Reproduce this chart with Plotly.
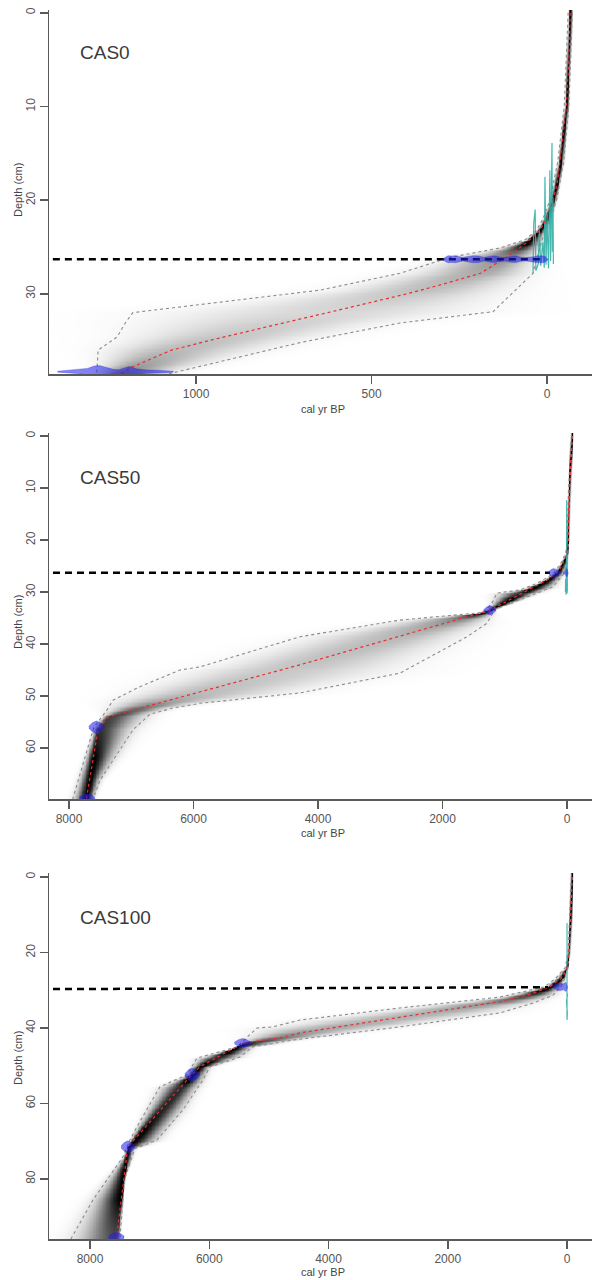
import numpy as np
import plotly.graph_objects as go

FIG_W, FIG_H = 592, 1280

# ======================= DATA =======================
# ---- CAS0 ----
P1_LABEL = "CAS0"
P1_MEAN_DEPTH = [0, 5, 10, 13, 16, 18, 20, 22, 23.2, 24.5, 25.8, 26.3, 27, 27.8, 29, 30, 31, 32, 33, 34, 35, 36, 37, 37.9, 38.55]
P1_MEAN_AGE = [-66, -62, -55, -46, -38, -30, -17, 2, 20, 57, 105, 125, 155, 190, 300, 400, 510, 625, 740, 855, 965, 1070, 1130, 1188, 1215]
P1_OLD_DEPTH = [0, 10, 16, 20, 22, 23.2, 24.2, 25.1, 26.1, 27, 27.8, 29.6, 32.0, 33.0, 34.6, 36.0, 38.55]
P1_OLD_AGE = [-60, -49, -30, -8, 12, 30, 62, 134, 276, 350, 419, 647, 1180, 1200, 1225, 1279, 1283]
P1_YOUNG_DEPTH = [0, 10, 16, 20, 22, 24, 26, 27.8, 31.9, 33.1, 35.2, 38.1, 38.55]
P1_YOUNG_AGE = [-72, -62, -47, -27, -10, 12, 28, 40, 154, 419, 704, 1037, 1080]
P1_PB_AGE = [40, 38, 34, 32, 25, 22, 18, 12, 8, 6, 3, 0, -4, -8, -10, -14, -15, -17, -18]
P1_PB_DEPTH = [27.8, 22.5, 21.0, 27.5, 26.8, 23.2, 27.0, 24.5, 27.2, 17.5, 26.9, 21.5, 27.3, 16.8, 26.5, 13.9, 25.5, 20.0, 26.8]
P1_DATE_DEPTH = [26.3, 38.3]
P1_DATE_AGES = [
    [297, 290, 282, 272, 262, 252, 240, 225, 210, 195, 180, 165, 150, 135, 120, 105, 90, 75, 60, 45, 30, 15, 5, -3],
    [1395, 1370, 1340, 1310, 1290, 1275, 1255, 1235, 1220, 1205, 1190, 1170, 1140, 1110, 1080, 1065],
]
P1_DATE_HALF = [
    [0.05, 0.25, 0.38, 0.35, 0.38, 0.3, 0.2, 0.3, 0.38, 0.35, 0.2, 0.3, 0.36, 0.25, 0.18, 0.3, 0.36, 0.22, 0.18, 0.25, 0.35, 0.38, 0.3, 0.05],
    [0.05, 0.15, 0.2, 0.35, 0.6, 0.65, 0.45, 0.25, 0.2, 0.4, 0.55, 0.3, 0.18, 0.15, 0.12, 0.05],
]
P1_DASH_DEPTH = [26.3, 26.3]
P1_DASH_AGE = [1408, 6]
P1_XTICKS = [1000, 500, 0]
P1_YTICKS = [0, 10, 20, 30]

# ---- CAS50 ----
P2_LABEL = "CAS50"
P2_MEAN_DEPTH = [0, 6.5, 12, 20, 22.5, 24.4, 25.3, 26.3, 27.7, 33.5, 44, 50, 54, 56.5, 69.8]
P2_MEAN_AGE = [-80, -48, -32, -16, 0, 64, 100, 161, 320, 1237, 4289, 6140, 7374, 7534, 7720]
P2_OLD_DEPTH = [0, 10, 20, 22.5, 24.5, 26.3, 27.1, 28.5, 29.6, 30.2, 32.0, 33.5, 34.0, 35.4, 38.6, 44.4, 45.0, 48.2, 50.8, 52.7, 56.0, 69.8]
P2_OLD_AGE = [-74, -25, -5, 20, 100, 210, 300, 520, 755, 1124, 1200, 1300, 1420, 2683, 4289, 5896, 6217, 6860, 7293, 7390, 7600, 7940]
P2_YOUNG_DEPTH = [0, 10, 20, 24, 26.3, 27.5, 29, 31.5, 33.3, 34, 36, 38.6, 45.6, 49.4, 51.4, 52.3, 53.5, 56.5, 66.2, 69.8]
P2_YOUNG_AGE = [-86, -45, -27, -5, 40, 120, 225, 755, 1150, 1189, 1285, 1606, 2683, 4289, 5896, 6329, 6699, 6972, 7502, 7614]
P2_PB_AGE = [8, 8, 5, 3, -2, -3, -6, 12, 14, 22, 25, -10]
P2_PB_DEPTH = [30.2, 14, 12.3, 29.5, 30.3, 22, 29.8, 25, 30.5, 27.5, 30, 28.5]
P2_DATE_DEPTH = [26.3, 26.3, 33.5, 56.0, 69.6]
P2_DATE_AGES = [
    [300, 260, 220, 180, 140, 100],
    [60, 30, 0, -20],
    [1340, 1290, 1240, 1190, 1140],
    [7680, 7620, 7560, 7500, 7440],
    [7830, 7770, 7710, 7650, 7590],
]
P2_DATE_HALF = [
    [0.1, 0.6, 0.8, 0.7, 0.4, 0.1],
    [0.1, 0.3, 0.8, 0.1],
    [0.1, 0.6, 0.9, 0.6, 0.1],
    [0.2, 0.9, 1.2, 0.9, 0.2],
    [0.2, 0.6, 0.8, 0.6, 0.2],
]
P2_DASH_DEPTH = [26.3, 26.3]
P2_DASH_AGE = [8257, 273]
P2_XTICKS = [8000, 6000, 4000, 2000, 0]
P2_YTICKS = [0, 10, 20, 30, 40, 50, 60]

# ---- CAS100 ----
P3_LABEL = "CAS100"
P3_MEAN_DEPTH = [0, 10, 20, 23.8, 26.5, 29.1, 31, 33, 37.2, 41.3, 42.6, 44, 50.3, 52.4, 71.5, 95.9]
P3_MEAN_AGE = [-80, -60, -30, 0, 67, 285, 600, 1124, 2802, 4480, 4815, 5436, 6158, 6292, 7366, 7560]
P3_OLD_DEPTH = [0, 20, 24, 27, 29.1, 31.8, 34.7, 37.9, 39.7, 40.0, 45.0, 48.0, 52.4, 55.6, 66.2, 69.7, 74.2, 85.6, 95.9]
P3_OLD_AGE = [-74, -18, 30, 200, 380, 1124, 2802, 4480, 4933, 5201, 5537, 6208, 6376, 6829, 7215, 7332, 7450, 7953, 8320]
P3_YOUNG_DEPTH = [0, 20, 24, 27, 29, 31.3, 33.4, 36, 39.7, 43.2, 45, 47.7, 50.3, 53.8, 61.7, 69.7, 72, 80, 95.9]
P3_YOUNG_AGE = [-86, -40, -8, 40, 100, 235, 570, 1124, 2802, 4600, 5268, 5487, 5990, 6107, 6443, 6879, 7250, 7420, 7500]
P3_PB_AGE = [0, 0, 6, 6, -6, -6, 10, -10]
P3_PB_DEPTH = [12.2, 37.9, 35, 20, 30, 36, 33, 31]
P3_DATE_DEPTH = [29.1, 44.0, 52.4, 71.5, 95.4]
P3_DATE_AGES = [
    [240, 180, 120, 60, 20, -10],
    [5580, 5510, 5440, 5370, 5300],
    [6410, 6350, 6290, 6230, 6170],
    [7480, 7420, 7366, 7310, 7250],
    [7690, 7620, 7560, 7500, 7430],
]
P3_DATE_HALF = [
    [0.2, 0.8, 1.0, 0.8, 1.2, 0.2],
    [0.2, 0.9, 1.2, 0.9, 0.2],
    [0.3, 1.3, 1.8, 1.3, 0.3],
    [0.3, 1.2, 1.6, 1.2, 0.3],
    [0.3, 1.0, 1.3, 1.0, 0.3],
]
P3_DASH_DEPTH = [29.7, 29.2]
P3_DASH_AGE = [8621, 320]
P3_XTICKS = [8000, 6000, 4000, 2000, 0]
P3_YTICKS = [0, 20, 40, 60, 80]

# ======================= LAYOUT GEOMETRY =======================
LEFT_PX = 49
PLOT_W = FIG_W - LEFT_PX
PANELS = [
    dict(top=10, bot=374, xr=[1419, -128], yr=[38.55, -0.3], ytitle=190, xtitle=409, lab=52),
    dict(top=433, bot=799, xr=[8321, -402], yr=[69.8, -0.58], ytitle=622, xtitle=833, lab=477),
    dict(top=873, bot=1239, xr=[8688, -419], yr=[95.9, -1.06], ytitle=1058, xtitle=1272, lab=917),
]
FONT = "Liberation Sans, Arial, Helvetica, sans-serif"
AXIS_COL = "#5a5a5a"

DATA = [
    (P1_LABEL, P1_MEAN_DEPTH, P1_MEAN_AGE, P1_OLD_DEPTH, P1_OLD_AGE, P1_YOUNG_DEPTH, P1_YOUNG_AGE,
     P1_PB_AGE, P1_PB_DEPTH, P1_DATE_DEPTH, P1_DATE_AGES, P1_DATE_HALF, P1_DASH_DEPTH, P1_DASH_AGE,
     P1_XTICKS, P1_YTICKS),
    (P2_LABEL, P2_MEAN_DEPTH, P2_MEAN_AGE, P2_OLD_DEPTH, P2_OLD_AGE, P2_YOUNG_DEPTH, P2_YOUNG_AGE,
     P2_PB_AGE, P2_PB_DEPTH, P2_DATE_DEPTH, P2_DATE_AGES, P2_DATE_HALF, P2_DASH_DEPTH, P2_DASH_AGE,
     P2_XTICKS, P2_YTICKS),
    (P3_LABEL, P3_MEAN_DEPTH, P3_MEAN_AGE, P3_OLD_DEPTH, P3_OLD_AGE, P3_YOUNG_DEPTH, P3_YOUNG_AGE,
     P3_PB_AGE, P3_PB_DEPTH, P3_DATE_DEPTH, P3_DATE_AGES, P3_DATE_HALF, P3_DASH_DEPTH, P3_DASH_AGE,
     P3_XTICKS, P3_YTICKS),
]

fig = go.Figure()
annotations = []
layout_axes = {}

for i, (label, md, ma, od, oa, yd, ya, pba, pbd, dd, dages, dhalf, dashd, dasha, xt, yt) in enumerate(DATA):
    g = PANELS[i]
    xa = "x" if i == 0 else f"x{i+1}"
    yax = "y" if i == 0 else f"y{i+1}"
    xr, yr = g["xr"], g["yr"]
    px_per_yr = PLOT_W / abs(xr[0] - xr[1])

    # grey-scale age density shading, built from the mean and 95% range
    dg = np.linspace(min(yr), max(yr), 280)
    ag = np.linspace(min(xr), max(xr), 700)
    m = np.interp(dg, md, ma)
    o = np.interp(dg, od, oa)
    y_ = np.interp(dg, yd, ya)
    min_yr = 1.5 / px_per_yr
    so = np.maximum(o - m, min_yr) / 2.0
    sy = np.maximum(m - y_, min_yr) / 2.0
    width_px = (so + sy) * 2.0 * px_per_yr
    inten = np.clip((30.0 / width_px) ** 0.75, 0, 1)
    A = ag[None, :]
    M = m[:, None]
    sig = np.where(A > M, so[:, None], sy[:, None])
    z = np.exp(-0.5 * ((A - M) / sig) ** 2) * inten[:, None]
    fig.add_trace(go.Heatmap(x=ag, y=dg, z=z, zmin=0, zmax=1,
                             colorscale=[[0, "rgb(255,255,255)"], [1, "rgb(0,0,0)"]],
                             showscale=False, zsmooth="best", hoverinfo="skip",
                             xaxis=xa, yaxis=yax))

    # 95% range (dotted grey)
    for dep, age in ((od, oa), (yd, ya)):
        fig.add_trace(go.Scatter(x=age, y=dep, mode="lines", xaxis=xa, yaxis=yax,
                                 line=dict(color="rgb(140,140,140)", width=1.1, dash="dot"),
                                 hoverinfo="skip"))
    # 210Pb data (turquoise)
    fig.add_trace(go.Scatter(x=pba, y=pbd, mode="lines", xaxis=xa, yaxis=yax,
                             line=dict(color="rgba(50,175,165,0.9)", width=1.2), hoverinfo="skip"))
    # mean age (red dotted)
    fig.add_trace(go.Scatter(x=ma, y=md, mode="lines", xaxis=xa, yaxis=yax,
                             line=dict(color="rgb(235,45,45)", width=1.2, dash="dot"),
                             hoverinfo="skip"))
    # dashed boundary
    fig.add_trace(go.Scatter(x=dasha, y=dashd, mode="lines", xaxis=xa, yaxis=yax,
                             line=dict(color="black", width=2.5, dash="7px,5px"), hoverinfo="skip"))
    # calibrated dates (blue)
    for dep, ages, half in zip(dd, dages, dhalf):
        xs = list(ages) + list(ages)[::-1]
        ys = [dep - h for h in half] + [dep + h for h in half][::-1]
        fig.add_trace(go.Scatter(x=xs, y=ys, mode="lines", fill="toself", xaxis=xa, yaxis=yax,
                                 fillcolor="rgba(30,30,230,0.55)",
                                 line=dict(color="rgba(30,30,230,0.55)", width=0.5),
                                 hoverinfo="skip"))

    ydom = [1 - g["bot"] / FIG_H, 1 - g["top"] / FIG_H]
    common = dict(showgrid=False, zeroline=False, showline=True, linecolor=AXIS_COL, linewidth=1.5,
                  ticks="outside", ticklen=8, tickwidth=1.5, tickcolor=AXIS_COL,
                  tickfont=dict(family=FONT, size=12, color="#555"), automargin=False,
                  fixedrange=True, mirror=False)
    layout_axes["xaxis" if i == 0 else f"xaxis{i+1}"] = dict(
        common, domain=[LEFT_PX / FIG_W, 1], range=xr, anchor=yax,
        tickvals=xt, ticktext=[str(v) for v in xt])
    layout_axes["yaxis" if i == 0 else f"yaxis{i+1}"] = dict(
        common, domain=ydom, range=yr, anchor=xa, tickangle=-90,
        tickvals=yt, ticktext=[str(v) for v in yt])

    annotations.append(dict(text=label, xref="paper", yref="paper", x=78 / FIG_W, y=1 - g["lab"] / FIG_H,
                            xanchor="left", yanchor="middle", showarrow=False,
                            font=dict(family=FONT, size=19, color="#3a3a3a")))
    annotations.append(dict(text="Depth (cm)", xref="paper", yref="paper", x=18 / FIG_W,
                            y=1 - g["ytitle"] / FIG_H, xanchor="center", yanchor="middle",
                            textangle=-90, showarrow=False,
                            font=dict(family=FONT, size=11, color="#444")))
    annotations.append(dict(text="cal yr BP", xref="paper", yref="paper", x=323 / FIG_W,
                            y=1 - g["xtitle"] / FIG_H, xanchor="center", yanchor="middle",
                            showarrow=False, font=dict(family=FONT, size=11, color="#444")))

fig.update_layout(width=FIG_W, height=FIG_H, margin=dict(l=0, r=0, t=0, b=0),
                  paper_bgcolor="white", plot_bgcolor="white", showlegend=False,
                  annotations=annotations, **layout_axes)

fig.write_html("out.html", config={"displayModeBar": False, "staticPlot": True},
               post_script="document.body.style.margin='0px';document.body.style.overflow='hidden';")
